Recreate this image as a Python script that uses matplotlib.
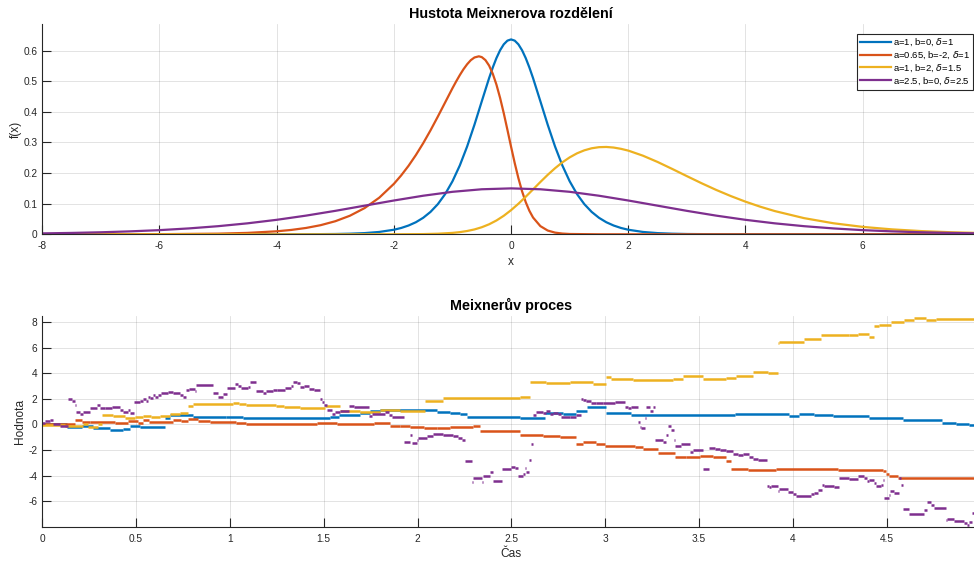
import matplotlib
matplotlib.use("Agg")
import matplotlib.pyplot as plt

plt.rcParams['font.family'] = ['Liberation Sans', 'DejaVu Sans']

# ---------------- data: density curves ----------------
dens_labels = ['a=1, b=0, $\\delta$=1', 'a=0.65, b=-2, $\\delta$=1',
               'a=1, b=2, $\\delta$=1.5', 'a=2.5, b=0, $\\delta$=2.5']

blue_x = [-8, -5, -4, -3.5, -3, -2.75, -2.5, -2.25, -2, -1.875, -1.75, -1.625, -1.5, -1.375,
          -1.25, -1.125, -1, -0.875, -0.75, -0.625, -0.5, -0.375, -0.3125, -0.25, -0.1875,
          -0.125, -0.0625, 0,
          0.0625, 0.125, 0.1875, 0.25, 0.3125, 0.375, 0.5, 0.625, 0.75, 0.875, 1, 1.125,
          1.25, 1.375, 1.5, 1.625, 1.75, 1.875, 2, 2.25, 2.5, 2.75, 3, 3.5, 4, 5, 7.9]
blue_y = [0, 0, 0.00006, 0.00024, 0.00097, 0.0020, 0.0039, 0.0077, 0.0149, 0.0207, 0.0287,
          0.0394, 0.0539, 0.0732, 0.0985, 0.1314, 0.1732, 0.2249, 0.2869, 0.3580, 0.4345,
          0.5102, 0.5448, 0.5756, 0.6012, 0.6205, 0.6326, 0.6366,
          0.6326, 0.6205, 0.6012, 0.5756, 0.5448, 0.5102, 0.4345, 0.3580, 0.2869, 0.2249,
          0.1732, 0.1314, 0.0985, 0.0732, 0.0539, 0.0394, 0.0287, 0.0207, 0.0149, 0.0077,
          0.0039, 0.0020, 0.00097, 0.00024, 0.00006, 0, 0]

orange_x = [-8, -6, -5, -4.5, -4, -3.75, -3.5, -3.25, -3, -2.75, -2.5, -2.25, -2, -1.875,
            -1.75, -1.625, -1.5, -1.375, -1.25, -1.125, -1, -0.9375, -0.875, -0.8125, -0.75,
            -0.6875, -0.625, -0.55, -0.5, -0.4375, -0.375, -0.3125, -0.25, -0.1875, -0.125,
            -0.0625, 0, 0.0625, 0.125, 0.1875, 0.25, 0.3125, 0.375, 0.5, 0.625, 0.75, 0.875,
            1, 1.5, 2, 7.9]
orange_y = [0.00002, 0.00044, 0.0021, 0.0046, 0.0098, 0.0143, 0.0207, 0.0298, 0.0427, 0.0607,
            0.0856, 0.1195, 0.1648, 0.1925, 0.2237, 0.2588, 0.2975, 0.3396, 0.3845, 0.4309,
            0.4773, 0.4993, 0.5201, 0.5391, 0.5555, 0.5688, 0.5776, 0.5814, 0.5788, 0.5690,
            0.5511, 0.5244, 0.4890, 0.4456, 0.3956, 0.3413, 0.2859, 0.2324, 0.1833, 0.1405,
            0.1050, 0.0767, 0.0548, 0.0267, 0.0123, 0.0055, 0.0024, 0.0010, 0.00003, 0, 0]

yellow_x = [-8, -3, -2, -1.5, -1.25, -1, -0.875, -0.75, -0.625, -0.5, -0.375, -0.25, -0.125,
            0, 0.125, 0.25, 0.375, 0.5, 0.625, 0.75, 0.875, 1, 1.125, 1.25, 1.375, 1.5, 1.625,
            1.75, 1.875, 2, 2.25, 2.5, 2.75, 3, 3.25, 3.5, 3.75, 4, 4.25, 4.5, 5, 5.5, 6, 6.5,
            7, 7.5, 7.9]
yellow_y = [0, 0, 0.0001, 0.0007, 0.0019, 0.0046, 0.0071, 0.0108, 0.0159, 0.0231, 0.0327,
            0.0451, 0.0605, 0.0789, 0.0998, 0.1227, 0.1467, 0.1709, 0.1942, 0.2158, 0.2350,
            0.2513, 0.2645, 0.2743, 0.2810, 0.2846, 0.2853, 0.2834, 0.2792, 0.2734, 0.2568,
            0.2363, 0.2135, 0.1900, 0.1669, 0.1450, 0.1249, 0.1066, 0.0903, 0.0759, 0.0528,
            0.0361, 0.0242, 0.0161, 0.0105, 0.0068, 0.0048]

purple_x = [-8, -7.5, -7, -6.5, -6, -5.5, -5, -4.5, -4, -3.5, -3, -2.5, -2, -1.5, -1, -0.5,
            0, 0.5, 1, 1.5, 2, 2.5, 3, 3.5, 4, 4.5, 5, 5.5, 6, 6.5, 7, 7.5, 7.9]
purple_y = [0.0030, 0.0045, 0.0066, 0.0096, 0.0136, 0.0192, 0.0265, 0.0358, 0.0473, 0.0610,
            0.0766, 0.0935, 0.1104, 0.1260, 0.1388, 0.1471, 0.15, 0.1471, 0.1388, 0.1260,
            0.1104, 0.0935, 0.0766, 0.0610, 0.0473, 0.0358, 0.0265, 0.0192, 0.0136, 0.0096,
            0.0066, 0.0045, 0.0033]

# ---------------- data: process paths (step start times and levels) ----------------
T_END = 4.966

p1_t = [0, 0.094, 0.129, 0.209, 0.271, 0.36, 0.431, 0.466, 0.52, 0.652,
        0.679, 0.803, 0.98, 1.069, 1.535, 1.58, 1.695, 1.748, 1.801, 2.103,
        2.174, 2.227, 2.262, 2.544, 2.678, 2.775, 2.846, 2.903, 3.006, 3.139,
        3.69, 3.982, 4.035, 4.115, 4.213, 4.408, 4.585, 4.798, 4.869, 4.94]
p1_v = [0.0, 0.03, -0.2, -0.1, -0.3, -0.42, -0.34, -0.1, -0.18, 0.52,
        0.73, 0.57, 0.6, 0.46, 0.55, 0.73, 0.91, 1.07, 1.12, 0.99,
        0.91, 0.78, 0.54, 0.5, 0.91, 0.81, 1.04, 1.38, 0.86, 0.74,
        0.78, 0.65, 0.83, 0.75, 0.63, 0.47, 0.33, 0.13, 0.05, -0.03]

p2_t = [0, 0.174, 0.209, 0.254, 0.387, 0.457, 0.511, 0.537, 0.569, 0.697,
        0.741, 0.777, 0.83, 0.892, 1.034, 1.087, 1.465, 1.571, 1.766, 1.855,
        1.908, 1.961, 2.032, 2.103, 2.174, 2.298, 2.333, 2.544, 2.669, 2.758,
        2.846, 2.882, 2.952, 2.997, 3.157, 3.202, 3.282, 3.37, 3.433, 3.504,
        3.575, 3.646, 3.672, 3.761, 3.911, 4.239, 4.479, 4.496, 4.514, 4.559]
p2_v = [0.0, 0.36, 0.22, 0.18, 0.1, 0.29, 0.12, 0.36, 0.18, 0.36,
        0.29, 0.44, 0.29, 0.18, 0.1, 0.03, 0.1, 0.03, 0.1, -0.16,
        -0.1, -0.2, -0.26, -0.31, -0.2, -0.1, -0.55, -0.81, -0.91, -0.96,
        -1.54, -1.38, -1.54, -1.67, -1.77, -1.9, -2.21, -2.58, -2.53, -2.5,
        -2.52, -2.84, -3.46, -3.54, -3.46, -3.54, -3.62, -3.85, -4.06, -4.19]

p3_t = [0, 0.121, 0.218, 0.245, 0.298, 0.316, 0.378, 0.44, 0.493, 0.537,
        0.581, 0.626, 0.679, 0.732, 0.777, 0.803, 1.016, 1.051, 1.087, 1.246,
        1.287, 1.376, 1.509, 1.589, 1.695, 1.801, 1.908, 2.041, 2.138, 2.544,
        2.598, 2.687, 2.811, 2.935, 3.003, 3.033, 3.148, 3.361, 3.415, 3.521,
        3.646, 3.699, 3.787, 3.867, 3.92, 3.929, 4.062, 4.151, 4.301, 4.346,
        4.408, 4.434, 4.461, 4.523, 4.594, 4.647, 4.709, 4.762]
p3_v = [-0.05, -0.13, 0.03, -0.18, 0.05, 0.73, 0.65, 0.52, 0.6, 0.65,
        0.6, 0.65, 0.81, 0.86, 1.43, 1.56, 1.67, 1.6, 1.51, 1.45,
        1.38, 1.3, 1.43, 1.07, 0.99, 1.15, 1.07, 1.82, 2.08, 2.15,
        3.33, 3.2, 3.33, 3.15, 3.7, 3.52, 3.49, 3.57, 3.75, 3.57,
        3.65, 3.78, 4.11, 4.04, 6.33, 6.46, 6.69, 7.0, 6.95, 7.08,
        6.82, 7.66, 7.73, 7.99, 8.13, 8.33, 8.15, 8.23]

p4_t = [0, 0.014, 0.041, 0.059, 0.094, 0.138, 0.156, 0.174, 0.179, 0.2,
        0.218, 0.254, 0.289, 0.307, 0.333, 0.369, 0.413, 0.431, 0.457, 0.466,
        0.489, 0.52, 0.537, 0.555, 0.564, 0.573, 0.59, 0.599, 0.617, 0.635,
        0.67, 0.697, 0.732, 0.75, 0.768, 0.78, 0.812, 0.821, 0.91, 0.936,
        0.963, 0.984, 1.025, 1.043, 1.06, 1.096, 1.105, 1.14, 1.176, 1.193,
        1.229, 1.252, 1.296, 1.323, 1.337, 1.355, 1.376, 1.394, 1.42, 1.447,
        1.482, 1.491, 1.5, 1.518, 1.544, 1.562, 1.589, 1.633, 1.66, 1.739,
        1.757, 1.828, 1.846, 1.864, 1.926, 1.961, 1.97, 1.996, 2.005, 2.05,
        2.085, 2.138, 2.191, 2.218, 2.236, 2.253, 2.289, 2.298, 2.342, 2.351,
        2.387, 2.404, 2.449, 2.5, 2.518, 2.535, 2.562, 2.571, 2.58, 2.594,
        2.607, 2.615, 2.633, 2.669, 2.683, 2.704, 2.722, 2.749, 2.766, 2.811,
        2.846, 2.873, 2.882, 2.9, 2.926, 2.953, 2.988, 3.05, 3.104, 3.122,
        3.139, 3.175, 3.184, 3.193, 3.214, 3.219, 3.237, 3.255, 3.264, 3.308,
        3.326, 3.335, 3.353, 3.365, 3.37, 3.406, 3.45, 3.468, 3.521, 3.553,
        3.583, 3.61, 3.646, 3.681, 3.708, 3.734, 3.769, 3.787, 3.814, 3.863,
        3.876, 3.885, 3.92, 3.929, 3.973, 4.0, 4.018, 4.098, 4.115, 4.133,
        4.154, 4.168, 4.222, 4.248, 4.301, 4.346, 4.381, 4.395, 4.408, 4.434,
        4.443, 4.47, 4.479, 4.488, 4.514, 4.519, 4.541, 4.567, 4.576, 4.585,
        4.62, 4.7, 4.718, 4.736, 4.754, 4.816, 4.824, 4.86, 4.913, 4.931,
        4.94, 4.957]
p4_v = [0.13, 0.29, 0.36, 0.02, -0.1, 1.95, 1.82, 1.54, 0.94, 0.83,
        0.99, 1.3, 1.48, 1.25, 1.3, 1.33, 1.12, 0.99, 1.09, 0.86,
        1.72, 1.85, 1.95, 1.79, 2.16, 2.06, 2.29, 2.11, 2.29, 2.42,
        2.53, 2.42, 2.29, 2.16, 2.68, 2.76, 2.63, 3.1, 2.42, 2.16,
        2.37, 2.86, 3.15, 3.02, 2.81, 2.94, 3.31, 2.58, 2.45, 2.6,
        2.66, 2.71, 2.84, 3.0, 3.33, 3.2, 2.89, 3.0, 2.79, 2.68,
        1.98, 1.77, 1.51, 1.12, 0.81, 0.99, 1.04, 1.43, 1.38, 0.68,
        0.78, 0.94, 0.75, 0.6, -1.35, -0.83, -1.43, -1.22, -1.04, -0.91,
        -0.76, -0.83, -0.91, -1.04, -1.22, -2.84, -4.48, -4.22, -4.5, -4.01,
        -3.7, -4.4, -3.5, -3.31, -3.44, -4.01, -3.88, -3.44, -3.7, -2.78,
        -1.54, 0.73, 0.94, 0.86, 1.04, 0.78, 0.91, 0.78, 0.55, 0.6,
        0.73, 1.95, 1.9, 1.82, 1.64, 1.69, 1.64, 1.74, 1.38, 1.25,
        1.33, 0.16, -0.18, -0.31, 0.5, 1.38, 1.04, 1.38, -1.22, -1.38,
        -0.8, -0.13, -0.47, -1.2, -1.69, -1.54, -2.13, -2.0, -3.52, -1.85,
        -1.9, -2.03, -2.1, -2.28, -2.42, -2.29, -2.58, -2.71, -2.79, -4.82,
        -4.92, -4.79, -5.23, -5.05, -5.31, -5.47, -5.57, -5.47, -5.36, -5.13,
        -4.74, -4.79, -4.87, -4.22, -4.27, -4.04, -4.2, -4.43, -4.32, -4.6,
        -4.79, -4.74, -4.38, -5.78, -5.5, -5.18, -5.36, -4.22, -4.74, -6.61,
        -7.0, -6.71, -6.09, -6.3, -6.54, -7.47, -7.4, -7.53, -7.73, -7.89,
        -7.66, -6.95]

top_xticks = [-8, -6, -4, -2, 0, 2, 4, 6]
top_yticks = [0, 0.1, 0.2, 0.3, 0.4, 0.5, 0.6]
top_yticklabels = ['0', '0.1', '0.2', '0.3', '0.4', '0.5', '0.6']
bot_xticks = [0, 0.5, 1, 1.5, 2, 2.5, 3, 3.5, 4, 4.5]
bot_xticklabels = ['0', '0.5', '1', '1.5', '2', '2.5', '3', '3.5', '4', '4.5']
bot_yticks = [-6, -4, -2, 0, 2, 4, 6, 8]

colors = ['#0072BD', '#D95319', '#EDB120', '#7E2F8E']
axcol = '#262626'

fig = plt.figure(figsize=(9.74, 5.63), dpi=100)
W, H = 974.0, 563.0
ax1 = fig.add_axes([42.3 / W, (H - 234.3) / H, (974 - 42.3) / W, 210.0 / H])
ax2 = fig.add_axes([42.3 / W, (H - 526.7) / H, (974 - 42.3) / W, 210.7 / H])


def style(ax):
    for s in ['top', 'right']:
        ax.spines[s].set_visible(False)
    for s in ['left', 'bottom']:
        ax.spines[s].set_color(axcol)
        ax.spines[s].set_linewidth(0.8)
    ax.tick_params(direction='in', length=6.8, width=0.8, color=axcol,
                   labelcolor=axcol, labelsize=7.3, pad=3.5)
    ax.tick_params(axis='x', pad=5)
    ax.grid(True, color=axcol, alpha=0.15, linewidth=0.6)
    ax.set_axisbelow(True)


# ---- top: densities ----
style(ax1)
for xs, ys, c, lab in zip([blue_x, orange_x, yellow_x, purple_x],
                          [blue_y, orange_y, yellow_y, purple_y], colors, dens_labels):
    ax1.plot(xs, ys, color=c, lw=1.6, label=lab, solid_joinstyle='round')
ax1.set_xlim(-8, 7.9)
ax1.set_ylim(0, 0.686)
ax1.set_xticks(top_xticks)
ax1.set_xticklabels([str(v) for v in top_xticks])
ax1.set_yticks(top_yticks)
ax1.set_yticklabels(top_yticklabels)
ax1.set_title('Hustota Meixnerova rozdělení', fontsize=10.4, fontweight='bold',
              color='black', pad=4.5, x=0.503)
ax1.set_xlabel('x', fontsize=8.6, color=axcol)
ax1.set_ylabel('f(x)', fontsize=8.6, color=axcol)
ax1.xaxis.set_label_coords(0.503, -0.105)
ax1.yaxis.set_label_coords(-0.022, 0.5)
leg = ax1.legend(loc='upper right', bbox_to_anchor=(0.999, 0.954), borderaxespad=0,
                 fontsize=6.8, handlelength=3.3, handletextpad=0.2, labelspacing=0.15,
                 borderpad=0.32, fancybox=False, framealpha=1)
leg.get_frame().set_edgecolor(axcol)
leg.get_frame().set_linewidth(0.8)

# ---- bottom: process paths ----
style(ax2)
for ts, vs, c in zip([p1_t, p2_t, p3_t, p4_t], [p1_v, p2_v, p3_v, p4_v], colors):
    ends = ts[1:] + [T_END]
    ax2.hlines(vs, ts, ends, colors=c, linewidth=1.8)
ax2.set_xlim(0, T_END)
ax2.set_ylim(-8.0, 8.47)
ax2.set_xticks(bot_xticks)
ax2.set_xticklabels(bot_xticklabels)
ax2.set_yticks(bot_yticks)
ax2.set_yticklabels([str(v) for v in bot_yticks])
ax2.set_title('Meixnerův proces', fontsize=10.4, fontweight='bold',
              color='black', pad=4.5, x=0.503)
ax2.set_xlabel('Čas', fontsize=8.6, color=axcol)
ax2.set_ylabel('Hodnota', fontsize=8.6, color=axcol)
ax2.xaxis.set_label_coords(0.503, -0.1)
ax2.yaxis.set_label_coords(-0.018, 0.5)

fig.savefig('out.png', dpi=100)
